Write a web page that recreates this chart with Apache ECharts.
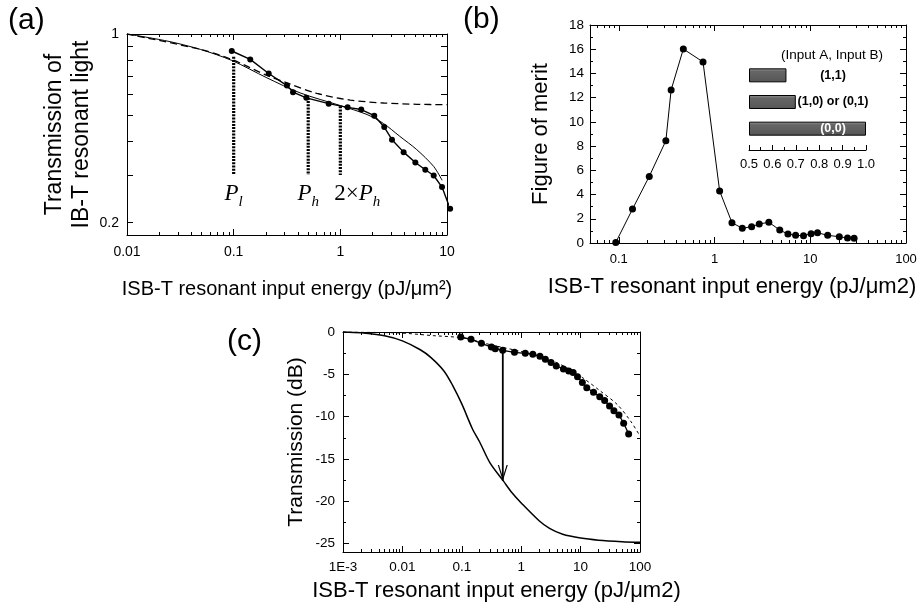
<!DOCTYPE html>
<html><head><meta charset="utf-8">
<script src="https://cdn.jsdelivr.net/npm/echarts@6/dist/echarts.min.js"></script>
<style>html,body{margin:0;padding:0;background:#fff}#c{width:922px;height:608px}</style>
</head><body><div id="c"></div>
<script>
// ---------------- Panel (a) ----------------
const aMeasX = [0.096,0.143,0.213,0.316,0.36,0.48,0.778,1.17,1.57,2.08,2.58,3.05,3.92,5.05,6.26,7.5,8.98,10.7];
const aMeasY = [0.865,0.805,0.714,0.644,0.609,0.580,0.552,0.535,0.525,0.498,0.452,0.406,0.365,0.334,0.314,0.299,0.271,0.225];
const aFitX = [0.01,0.0237,0.0487,0.096,0.205,0.42,1.0,1.78,2.54,3.6,5.2,7.5,9.0];
const aFitY = [1,0.942,0.877,0.798,0.688,0.605,0.543,0.503,0.466,0.418,0.373,0.323,0.287];
const aSatX = [0.01,0.0487,0.096,0.205,0.316,0.604,1.24,2.55,5.23,10];
const aSatY = [1,0.877,0.805,0.702,0.659,0.602,0.569,0.555,0.549,0.547];
const aMarkX = [0.1,0.5,1];
const aMarkTop = [0.824,0.58,0.54];
const aMarkBottom = [0.30,0.30,0.30];
const aMarkLabels = ['{i|P}{s|l}','{i|P}{s|h}','{r|2×}{i|P}{s|h}'];
const aXTicks = [0.01,0.1,1,10];
const aXTickLabels = ['0.01','0.1','1','10'];
const aYTicks = [0.2,0.3,0.4,0.5,0.6,0.7,0.8,0.9,1];
const aYLabelVals = [0.2,1];
const aYLabels = ['0.2','1'];

// ---------------- Panel (b) ----------------
const bX = [0.093,0.139,0.208,0.31,0.352,0.472,0.758,1.13,1.52,1.95,2.44,2.93,3.69,4.8,5.84,7.03,8.5,10.2,11.9,15.2,20.1,24.5,28.7];
const bY = [0.05,2.8,5.5,8.44,12.64,16.02,14.95,4.3,1.68,1.21,1.35,1.57,1.71,1.07,0.74,0.63,0.60,0.77,0.85,0.63,0.52,0.41,0.39];
const bXTicks = [0.1,1,10,100];
const bXTickLabels = ['0.1','1','10','100'];
const bYTicks = [0,2,4,6,8,10,12,14,16,18];
const bYMinor = [1,3,5,7,9,11,13,15,17];
const insetCats = ['(1,1)','(1,0) or (0,1)','(0,0)'];
const insetVals = [0.66,0.70,1.0];
const insetTitle = '(Input A, Input B)';

// ---------------- Panel (c) ----------------
const cMeasX = [0.096,0.143,0.214,0.315,0.366,0.488,0.77,1.17,1.57,2.07,2.55,3.18,3.89,5.14,6.32,7.49,8.87,10.7,12.7,16.5,21.0,25.4,30.7,36.4,44.2,53.1,64.4];
const cMeasY = [-0.59,-0.86,-1.34,-1.78,-1.97,-2.17,-2.40,-2.52,-2.62,-2.88,-3.22,-3.60,-4.01,-4.37,-4.61,-4.80,-5.28,-5.98,-6.58,-7.12,-7.64,-8.11,-8.74,-9.30,-9.80,-10.78,-12.04];
const cFullX = [0.001,0.002,0.005,0.01,0.02,0.03,0.05,0.07,0.1,0.15,0.2,0.3,0.5,0.7,1,2,3,5,10,20,50,100];
const cFullY = [0,-0.1,-0.45,-1.05,-2.1,-3.0,-4.6,-6.3,-8.5,-11.4,-13.0,-15.5,-17.6,-19.0,-20.2,-22.3,-23.2,-23.9,-24.35,-24.6,-24.78,-24.86];
const cSatX = [0.001,0.00906,0.033,0.106,0.3,0.96,2.1,3.52,5.93,11.3,21.7,41.4,69.5,100];
const cSatY = [0,-0.12,-0.43,-0.71,-1.49,-2.28,-2.87,-3.46,-4.25,-5.5,-7.0,-8.57,-10.53,-12.3];
const cArrowX = [0.49,0.49];
const cArrowY = [-2.2,-17.6];
const cXTicks = [0.001,0.01,0.1,1,10,100];
const cXTickLabels = ['1E-3','0.01','0.1','1','10','100'];
const cYTicks = [-25,-20,-15,-10,-5,0];
const cYMinor = [-22.5,-17.5,-12.5,-7.5,-2.5];

// ---------------- helpers ----------------
const FONT = '"Liberation Sans", Arial, Helvetica, sans-serif';
const SERIF = '"Liberation Serif", "Times New Roman", serif';
const zip = (xs, ys) => xs.map((x, i) => [x, ys[i]]);
function fmtFrom(values, labels) {
  return function (v) {
    for (let i = 0; i < values.length; i++) {
      if (Math.abs(v - values[i]) <= Math.abs(values[i]) * 1e-6 + 1e-9) return labels[i];
    }
    return '';
  };
}
function logMinors(lo, hi) {
  const out = [];
  for (let e = Math.floor(Math.log10(lo)); e < Math.ceil(Math.log10(hi)); e++) {
    for (let m = 2; m <= 9; m++) {
      const v = +(m * Math.pow(10, e)).toPrecision(6);
      if (v > lo && v < hi) out.push(v);
    }
  }
  return out;
}
const xAxes = [], yAxes = [];
function addAxes(list, dim, grid, cfg) {
  const pos = dim === 'x' ? ['bottom', 'top'] : ['left', 'right'];
  const mainIndex = list.length;
  pos.forEach((p, k) => {
    const main = {
      gridIndex: grid, type: cfg.type, min: cfg.min, max: cfg.max, position: p,
      splitLine: { show: false },
      axisLine: { show: true, onZero: false, lineStyle: { color: '#000', width: 1 } },
      axisTick: { show: true, inside: true, length: 6, customValues: cfg.majors, lineStyle: { color: '#000', width: 1 } },
      axisLabel: { show: false }
    };
    if (k === 0) {
      main.axisLabel = { show: true, customValues: cfg.labelValues, formatter: cfg.formatter,
        color: '#000', fontSize: cfg.fontSize, fontFamily: FONT, margin: cfg.margin };
      main.name = cfg.name;
      main.nameLocation = 'middle';
      main.nameGap = cfg.nameGap;
      if (dim === 'y') main.nameRotate = 90;
      main.nameTextStyle = { fontSize: cfg.nameSize, fontFamily: FONT, color: '#000',
        lineHeight: cfg.nameLineHeight || cfg.nameSize * 1.2, padding: cfg.namePadding || 0 };
    }
    list.push(main);
    if (cfg.minors && cfg.minors.length) {
      list.push({
        gridIndex: grid, type: cfg.type, min: cfg.min, max: cfg.max, position: p,
        splitLine: { show: false },
        axisLine: { show: false, onZero: false },
        axisTick: { show: true, inside: true, length: 3, customValues: cfg.minors, lineStyle: { color: '#000', width: 1 } },
        axisLabel: { show: false }
      });
    }
  });
  return mainIndex;
}

// axes for (a)
const ax = addAxes(xAxes, 'x', 0, { type: 'log', min: 0.01, max: 10, majors: aXTicks, minors: logMinors(0.01, 10),
  labelValues: aXTicks, formatter: fmtFrom(aXTicks, aXTickLabels), fontSize: 14, margin: 10,
  name: 'ISB-T resonant input energy (pJ/μm²)', nameGap: 42, nameSize: 20 });
const ay = addAxes(yAxes, 'y', 0, { type: 'log', min: 0.18, max: 1, majors: aYTicks, minors: [],
  labelValues: aYLabelVals, formatter: fmtFrom(aYLabelVals, aYLabels), fontSize: 14, margin: 8,
  name: 'Transmission of\nIB-T resonant light', nameGap: 27, nameSize: 23, nameLineHeight: 27 });
// axes for (b)
const bx = addAxes(xAxes, 'x', 1, { type: 'log', min: 0.05, max: 100, majors: bXTicks, minors: logMinors(0.05, 100),
  labelValues: bXTicks, formatter: fmtFrom(bXTicks, bXTickLabels), fontSize: 13, margin: 10,
  name: 'ISB-T resonant input energy (pJ/μm2)', nameGap: 31, nameSize: 22, namePadding: [0, 32, 0, 0] });
const by = addAxes(yAxes, 'y', 1, { type: 'value', min: 0, max: 18, majors: bYTicks, minors: bYMinor,
  labelValues: bYTicks, formatter: (v) => String(v), fontSize: 13.5, margin: 6,
  name: 'Figure of merit', nameGap: 36, nameSize: 22 });
// axes for (c)
const cx = addAxes(xAxes, 'x', 2, { type: 'log', min: 0.001, max: 100, majors: cXTicks, minors: logMinors(0.001, 100),
  labelValues: cXTicks, formatter: fmtFrom(cXTicks, cXTickLabels), fontSize: 13.5, margin: 8,
  name: 'ISB-T resonant input energy (pJ/μm2)', nameGap: 26, nameSize: 22, namePadding: [0, 0, 0, 10] });
const cy = addAxes(yAxes, 'y', 2, { type: 'value', min: -26, max: 0, majors: cYTicks, minors: cYMinor,
  labelValues: cYTicks, formatter: (v) => String(v), fontSize: 13.5, margin: 8,
  name: 'Transmission (dB)', nameGap: 34, nameSize: 21 });
// inset axes
const ix = xAxes.length;
xAxes.push({
  gridIndex: 3, type: 'value', min: 0.5, max: 1.0, interval: 0.1, position: 'bottom', offset: 8, startValue: 0.5,
  splitLine: { show: false },
  axisLine: { show: true, onZero: false, lineStyle: { color: '#000', width: 1 } },
  axisTick: { show: true, inside: true, length: 5, lineStyle: { color: '#000' } },
  minorTick: { show: true, splitNumber: 2, length: 3, lineStyle: { color: '#000' } },
  axisLabel: { color: '#000', fontSize: 13, fontFamily: FONT, margin: 8, formatter: (v) => v.toFixed(1) }
});
const iy = yAxes.length;
yAxes.push({ gridIndex: 3, type: 'category', data: insetCats, inverse: true, show: false });

const barFill = new echarts.graphic.LinearGradient(0, 0, 0, 1, [
  { offset: 0, color: '#9a9a9a' }, { offset: 0.22, color: '#666' }, { offset: 1, color: '#555' }]);
const markLabelOffsets = [[0, 0], [0, 0], [17, 0]];

const series = [
  // (a)
  { type: 'line', xAxisIndex: ax, yAxisIndex: ay, data: zip(aSatX, aSatY), symbol: 'none', smooth: 0.3,
    lineStyle: { color: '#000', width: 1.3, type: [7, 4] } },
  { type: 'line', xAxisIndex: ax, yAxisIndex: ay, data: zip(aFitX, aFitY), symbol: 'none', smooth: 0.3,
    lineStyle: { color: '#000', width: 1 } },
  { type: 'line', xAxisIndex: ax, yAxisIndex: ay, data: zip(aMeasX, aMeasY), symbol: 'circle', symbolSize: 6,
    clip: false, itemStyle: { color: '#000' }, lineStyle: { color: '#000', width: 1.4 } },
  ...aMarkX.map((x, i) => ({ type: 'line', xAxisIndex: ax, yAxisIndex: ay, symbol: 'none',
    data: [[x, aMarkTop[i]], [x, aMarkBottom[i]]], lineStyle: { color: '#000', width: 3.2, type: [2, 1.2], cap: 'butt' } })),
  { type: 'scatter', xAxisIndex: ax, yAxisIndex: ay, symbolSize: 0, itemStyle: { color: '#000', opacity: 1 },
    data: aMarkX.map((x, i) => ({ value: [x, aMarkBottom[i]], label: { offset: markLabelOffsets[i] } })),
    label: { show: true, position: 'bottom', distance: 4, color: '#000', formatter: (p) => aMarkLabels[p.dataIndex],
      rich: {
        i: { fontFamily: SERIF, fontStyle: 'italic', fontSize: 23, lineHeight: 30, color: '#000', verticalAlign: 'middle' },
        r: { fontFamily: SERIF, fontSize: 23, lineHeight: 30, color: '#000', verticalAlign: 'middle' },
        s: { fontFamily: SERIF, fontStyle: 'italic', fontSize: 15, lineHeight: 15, color: '#000', verticalAlign: 'bottom' }
      } } },
  // (b)
  { type: 'line', xAxisIndex: bx, yAxisIndex: by, data: zip(bX, bY), symbol: 'circle', symbolSize: 7,
    itemStyle: { color: '#000' }, lineStyle: { color: '#000', width: 1 } },
  { type: 'bar', xAxisIndex: ix, yAxisIndex: iy, data: insetVals.map((v, i) => ({
      value: v, label: { color: i === 2 ? '#fff' : '#000' } })),
    barWidth: 14, itemStyle: { color: barFill, borderColor: '#000', borderWidth: 1 },
    label: { show: true, position: [84, '50%'], align: 'center', verticalAlign: 'middle', fontWeight: 'bold',
      fontSize: 12.5, fontFamily: FONT, formatter: (p) => insetCats[p.dataIndex] } },
  // (c)
  { type: 'line', xAxisIndex: cx, yAxisIndex: cy, data: zip(cFullX, cFullY), symbol: 'none', smooth: 0.3,
    clip: false, lineStyle: { color: '#000', width: 1.5 } },
  { type: 'line', xAxisIndex: cx, yAxisIndex: cy, data: zip(cSatX, cSatY), symbol: 'none', smooth: 0.3,
    lineStyle: { color: '#000', width: 1, type: [3, 3] } },
  { type: 'line', xAxisIndex: cx, yAxisIndex: cy, data: zip(cMeasX, cMeasY), symbol: 'circle', symbolSize: 7,
    itemStyle: { color: '#000' }, lineStyle: { color: '#000', width: 1.3 } },
  { type: 'line', xAxisIndex: cx, yAxisIndex: cy, data: zip(cArrowX, cArrowY), showSymbol: true,
    symbol: (v, p) => p.dataIndex === 1 ? 'path://M0,0L5,14L10,0L8.8,0L5,10.6L1.2,0Z' : 'none',
    symbolSize: [10, 16], symbolKeepAspect: false, symbolOffset: [0, '-50%'],
    itemStyle: { color: '#000', borderWidth: 0 }, lineStyle: { color: '#000', width: 1.8 } }
];

const titleStyle = { fontSize: 30, fontFamily: FONT, fill: '#000' };
const gridBase = { outerBoundsMode: 'none', containLabel: false };
const option = {
  animation: false,
  backgroundColor: '#fff',
  grid: [
    Object.assign({ left: 127, top: 34, width: 320, height: 201 }, gridBase),
    Object.assign({ left: 590, top: 25, width: 316, height: 218 }, gridBase),
    Object.assign({ left: 343, top: 332, width: 297, height: 220 }, gridBase),
    Object.assign({ left: 749, top: 62, width: 117, height: 80 }, gridBase)
  ],
  xAxis: xAxes,
  yAxis: yAxes,
  series: series,
  graphic: [
    { type: 'text', left: 8, top: 6, style: Object.assign({ text: '(a)' }, titleStyle) },
    { type: 'text', left: 463, top: 5, style: Object.assign({ text: '(b)' }, titleStyle) },
    { type: 'text', left: 227, top: 327, style: Object.assign({ text: '(c)' }, titleStyle) },
    { type: 'text', x: 832, y: 55, style: { text: insetTitle, fontSize: 13.5, fontFamily: FONT, fill: '#000',
      align: 'center', verticalAlign: 'middle', textAlign: 'center', textVerticalAlign: 'middle' } }
  ]
};
const chart = echarts.init(document.getElementById('c'), null, { renderer: 'canvas' });
chart.setOption(option);
</script></body></html>
